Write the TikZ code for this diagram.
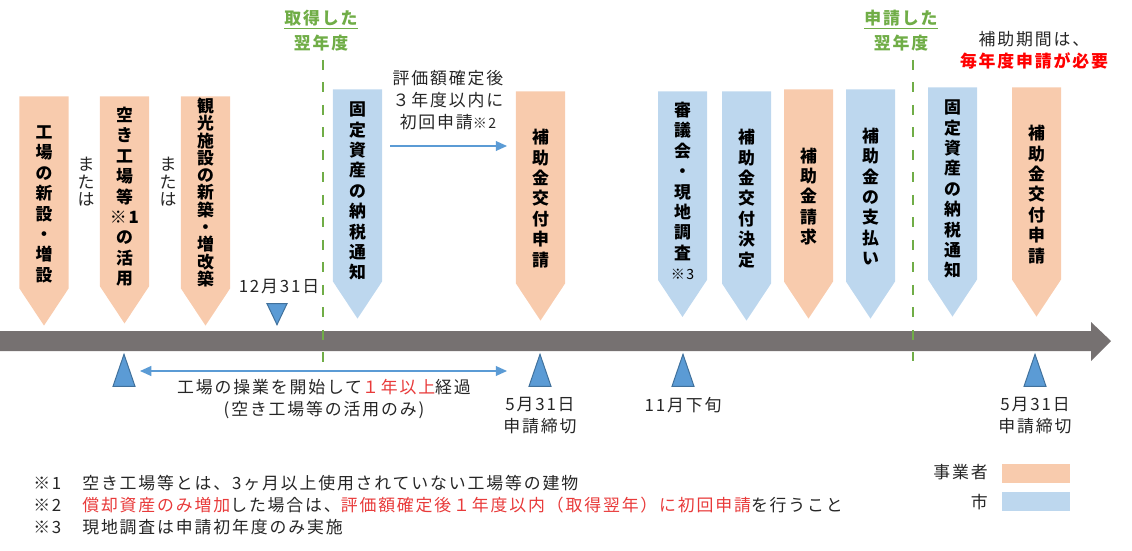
\documentclass[tikz,border=0pt]{standalone}
\usepackage{fontspec}
\setmainfont{Noto Sans CJK JP}[LetterSpace=11]
\usepackage{xcolor}
\usepackage{tikz}
\usetikzlibrary{arrows.meta}
\usetikzlibrary{positioning}
\usetikzlibrary{shapes}

\definecolor{bizorange}{HTML}{F8CBAD}
\definecolor{cityblue}{HTML}{BDD7EE}
\definecolor{bargray}{HTML}{767171}
\definecolor{pinblue}{HTML}{5B9BD5}
\definecolor{pinedge}{HTML}{41719C}
\definecolor{yeargreen}{HTML}{70AD47}
\definecolor{alertred}{HTML}{FF0000}
\definecolor{notered}{HTML}{E83A3A}
\definecolor{txt}{HTML}{262626}

% pushes the column of characters a little down in its box
\newcommand{\tatepad}[1][26pt]{\rule{0pt}{#1}}

\begin{document}
\begin{tikzpicture}[x=0.025cm, y=-0.025cm, text=txt,
	stepbox/.style={shape=signal, signal to=south, signal from=nowhere, signal pointer angle=67,
		minimum width=1.225cm, minimum height=5.125cm, inner sep=0pt, anchor=north, align=center,
		text=black, font=\fontsize{12}{14.5}\selectfont\bfseries},
	biz/.style={stepbox, fill=bizorange},
	city/.style={stepbox, fill=cityblue},
	pin/.style={isosceles triangle, isosceles triangle stretches, shape border rotate=90,
		fill=pinblue, draw=pinedge, line width=0.7pt, minimum width=0.55cm, minimum height=0.8cm,
		inner sep=0pt, anchor=apex},
	plain/.style={align=center, inner sep=0pt, font=\fontsize{12}{15.6}\selectfont},
	vert/.style={align=center, inner sep=0pt, font=\fontsize{12}{12.4}\selectfont},
	yeartag/.style={align=center, inner sep=0pt, text=yeargreen, font=\fontsize{12}{17.7}\selectfont\bfseries},
	yearline/.style={yeargreen, line width=2.1pt, dash pattern=on 7pt off 9pt},
	flow/.style={pinblue, line width=1pt, -{Triangle[length=8pt, width=7pt]}},
	note/.style={anchor=west, inner sep=0pt, font=\fontsize{12}{15.6}\selectfont},
	swatch/.style={minimum width=1.7cm, minimum height=0.475cm, inner sep=0pt},
]
\useasboundingbox (0,0) rectangle (1132,551);

% timeline
\fill [bargray] (0,331) -- (1091,331) -- (1091,322) -- (1111,341) -- (1091,361) -- (1091,351) -- (0,351) -- cycle;

% year marks
\node [yeartag] (acq) at (321,31) {\underline{取得した}\\翌年度};
\node [yeartag] (app) at (901,31) {\underline{申請した}\\翌年度};
\coordinate (acqTop) at (323,60);
\coordinate (acqBot) at (323,362);
\coordinate (appTop) at (913,60);
\coordinate (appBot) at (913,361);
\draw [yearline] (acqTop) -- (acqBot);
\draw [yearline] (appTop) -- (appBot);

% steps
\node [biz] (b1) at (44,96) {\tatepad 工\\場\\の\\新\\設\\・\\増\\設};
\node [vert] (or1) at (86,182) {ま\\た\\は};
\node [biz] (b2) at (124.5,96) {\tatepad[18pt]空\\き\\工\\場\\等\\※1\\の\\活\\用};
\node [vert] (or2) at (168,182) {ま\\た\\は};
\node [biz, font=\fontsize{12}{12.3}\selectfont\bfseries] (b3) at (205.5,96) {観\\光\\施\\設\\の\\新\\築\\・\\増\\改\\築};
\node [city] (b4) at (357.5,89) {\tatepad[18pt]固\\定\\資\\産\\の\\納\\税\\通\\知};
\node [biz] (b5) at (540.5,91) {\tatepad 補\\助\\金\\交\\付\\申\\請};
\node [city] (b6) at (682.5,91) {\tatepad[18pt]審\\議\\会\\・\\現\\地\\調\\査\\{\normalfont\fontsize{10}{12}\selectfont ※3}};
\node [city] (b7) at (746.5,91) {\tatepad 補\\助\\金\\交\\付\\決\\定};
\node [biz] (b8) at (808.5,89) {\tatepad 補\\助\\金\\請\\求};
\node [city] (b9) at (870.5,89) {\tatepad 補\\助\\金\\の\\支\\払\\い};
\node [city] (b10) at (952.5,87) {\tatepad[18pt]固\\定\\資\\産\\の\\納\\税\\通\\知};
\node [biz] (b11) at (1036.5,87) {\tatepad 補\\助\\金\\交\\付\\申\\請};

% first application window
\node [plain] (evaltxt) at (448,100) {評価額確定後\\３年度以内に\\初回申請{\fontsize{10}{12}\selectfont ※2}};
\coordinate (evalL) at (390,146);
\coordinate (evalR) at (507,146);
\draw [flow] (evalL) -- (evalR);

% dates
\node [pin, shape border rotate=270, minimum width=0.5cm, minimum height=0.525cm] (d1) at (277,326) {};
\node [plain] (dec) at (279,287) {12月31日};
\node [pin] (p2) at (124,353) {};
\node [pin] (p5) at (540,353) {};
\node [pin] (p6) at (683,353) {};
\node [pin] (p11) at (1035,353) {};
\node [plain] (due1) [below=0.25cm of p5] {5月31日\\申請締切};
\node [plain] (late) [below=0.25cm of p6] {11月下旬};
\node [plain] (due2) [below=0.25cm of p11] {5月31日\\申請締切};

% operating period
\coordinate (spanL) at (140,371);
\coordinate (spanR) at (507,371);
\draw [flow, {Triangle[length=8pt, width=7pt]}-{Triangle[length=8pt, width=7pt]}] (spanL) -- (spanR);
\node [plain] (spantxt) at (324,399) {工場の操業を開始して\textcolor{notered}{１年以上}経過\\(空き工場等の活用のみ)};

% every year
\node [plain] (period) at (1034,50) {補助期間は、\\\textcolor{alertred}{\bfseries 毎年度申請が必要}};

% notes
\node [note] (n1) at (33,483) {\makebox[1.225cm][l]{※1}空き工場等とは、3ヶ月以上使用されていない工場等の建物};
\node [note] (n2) at (33,505) {\makebox[1.225cm][l]{※2}\textcolor{notered}{償却資産のみ増加}した場合は、\textcolor{notered}{評価額確定後１年度以内（取得翌年）に初回申請}を行うこと};
\node [note] (n3) at (33,527) {\makebox[1.225cm][l]{※3}現地調査は申請初年度のみ実施};

% legend
\node [plain, anchor=east] (bizkey) at (988,472) {事業者};
\node [swatch, fill=bizorange] (bizsw) at (1036,473.5) {};
\node [plain, anchor=east] (citykey) at (988,502) {市};
\node [swatch, fill=cityblue] (citysw) at (1036,501.5) {};
\end{tikzpicture}
\end{document}
